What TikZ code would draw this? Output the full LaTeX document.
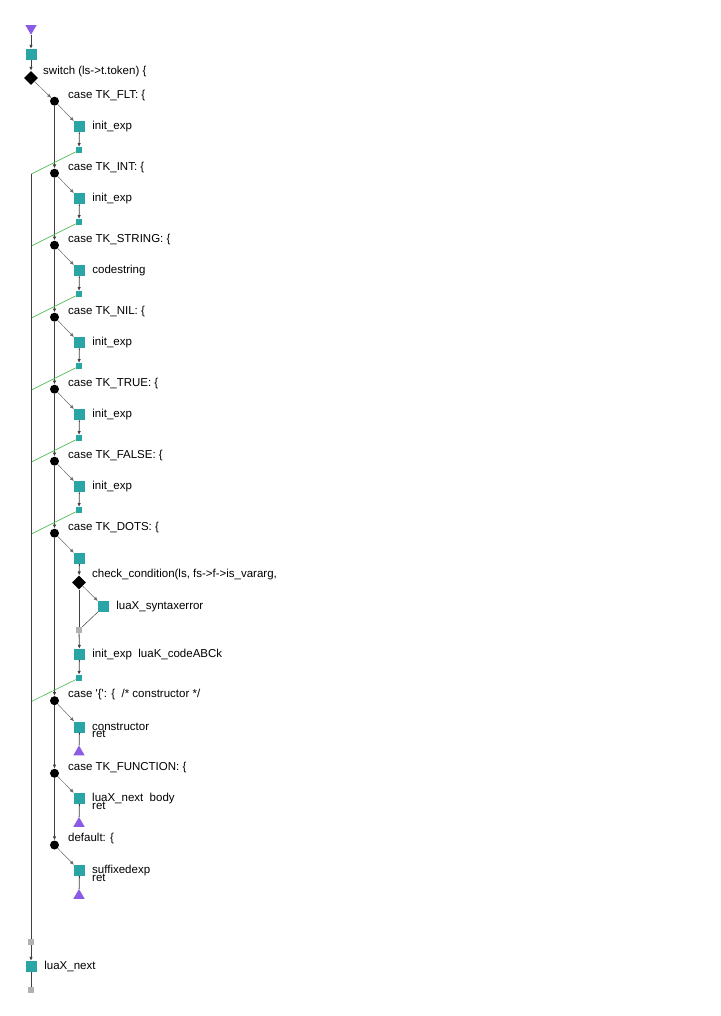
\documentclass[tikz,border=0pt]{standalone}
\usepackage{fontspec}
\usepackage{tikz}
\usepackage{xcolor}
\usetikzlibrary{shapes.geometric, arrows.meta}
\newfontfamily\flowfont{Liberation Sans}

\definecolor{blockteal}{RGB}{41,165,165}
\definecolor{retviolet}{RGB}{138,92,230}
\definecolor{joingray}{RGB}{178,178,178}
\definecolor{backgreen}{RGB}{77,184,77}
\definecolor{edgegray}{RGB}{64,64,64}

\begin{document}
\begin{tikzpicture}[
    x=1pt, y=-1pt,
    font=\flowfont\fontsize{11.5}{12}\selectfont,
    blk/.style={rectangle, fill=blockteal, minimum size=11pt, inner sep=0pt},
    tiny/.style={rectangle, fill=#1, minimum size=6pt, inner sep=0pt},
    tiny/.default=blockteal,
    casedot/.style={circle, fill=black, minimum size=9pt, inner sep=0pt},
    cond/.style={diamond, fill=black, minimum size=14pt, inner sep=0pt},
    endmark/.style={regular polygon, regular polygon sides=3, fill=retviolet,
        minimum size=13pt, inner sep=0pt, shape border rotate=#1},
    endmark/.default=0,
    txt/.style={anchor=west, inner sep=0pt},
    side/.style={txt, xshift=7pt},
    flow/.style={draw=edgegray, line width=0.8pt, -{Latex[length=4pt,width=3.5pt]}},
    slant/.style={draw=edgegray!80, line width=0.5pt, -{Latex[length=4pt,width=3.5pt]}},
    link/.style={draw=edgegray, line width=0.8pt},
    back/.style={draw=backgreen, line width=0.6pt}
]
    \useasboundingbox (0,0) rectangle (720,1016);

    % Entry
    \node[endmark=180] (entry) at (31,28.3) {};
    \node[blk] (first) at (31,54.5) {};
    \node[cond] (sw) at (31,78) {};
    \node[txt] (swtxt) at (43,72) {switch (ls->t.token) \{};

    % Case heads
    \node[casedot] (cFLT)  at (54.5,101.2) {};
    \node[casedot] (cINT)  at (54.5,173.2) {};
    \node[casedot] (cSTR)  at (54.5,245.2) {};
    \node[casedot] (cNIL)  at (54.5,317.2) {};
    \node[casedot] (cTRUE) at (54.5,389.2) {};
    \node[casedot] (cFALSE) at (54.5,461.2) {};
    \node[casedot] (cDOTS) at (54.5,533.2) {};
    \node[casedot] (cBRACE) at (54.5,700.7) {};
    \node[casedot] (cFUNC) at (54.5,773.3) {};
    \node[casedot] (cDEF)  at (54.5,845) {};

    \node[txt] at (68,95.2)  {case TK\_FLT: \{};
    \node[txt] at (68,167.2) {case TK\_INT: \{};
    \node[txt] at (68,239.2) {case TK\_STRING: \{};
    \node[txt] at (68,311.2) {case TK\_NIL: \{};
    \node[txt] at (68,383.2) {case TK\_TRUE: \{};
    \node[txt] at (68,455.2) {case TK\_FALSE: \{};
    \node[txt] at (68,527.2) {case TK\_DOTS: \{};
    \node[txt] at (68,694.7) {case \textquotesingle\{\textquotesingle: \{~ /* constructor */};
    \node[txt] at (68,767.3) {case TK\_FUNCTION: \{};
    \node[txt] at (68,839)   {default: \{};

    % Simple case bodies
    \node[blk, label={[side]right:init\_exp}] (bFLT) at (79.5,126.7) {};
    \node[tiny] (eFLT) at (79,150.2) {};
    \node[blk, label={[side]right:init\_exp}] (bINT) at (79.5,198.7) {};
    \node[tiny] (eINT) at (79,222.2) {};
    \node[blk, label={[side]right:codestring}] (bSTR) at (79.5,270.7) {};
    \node[tiny] (eSTR) at (79,294.2) {};
    \node[blk, label={[side]right:init\_exp}] (bNIL) at (79.5,342.7) {};
    \node[tiny] (eNIL) at (79,366.2) {};
    \node[blk, label={[side]right:init\_exp}] (bTRUE) at (79.5,414.7) {};
    \node[tiny] (eTRUE) at (79,438.2) {};
    \node[blk, label={[side]right:init\_exp}] (bFALSE) at (79.5,486.7) {};
    \node[tiny] (eFALSE) at (79,510.2) {};

    % TK_DOTS body
    \node[blk] (dsq) at (79.5,558.5) {};
    \node[cond] (dchk) at (79,582.5) {};
    \node[txt] (dchktxt) at (92,575) {check\_condition(ls, fs->f->is\_vararg,};
    \node[blk, label={[side]right:luaX\_syntaxerror}] (derr) at (103.5,606.5) {};
    \node[tiny=joingray] (djoin) at (79,630) {};
    \node[blk, label={[side]right:init\_exp~ luaK\_codeABCk}] (dabc) at (79.5,654.5) {};
    \node[tiny] (eDOTS) at (79,678) {};

    % Returning cases
    \node[blk] (bBRACE) at (79.5,727) {};
    \node[txt] at (92,727) {constructor};
    \node[txt] at (92,734) {ret};
    \node[endmark] (rBRACE) at (79,752) {};
    \node[blk] (bFUNC) at (79.5,798.5) {};
    \node[txt] at (92,798.5) {luaX\_next~ body};
    \node[txt] at (92,805.5) {ret};
    \node[endmark] (rFUNC) at (79,823.5) {};
    \node[blk] (bDEF) at (79.5,870.5) {};
    \node[txt] at (92,870.5) {suffixedexp};
    \node[txt] at (92,877.5) {ret};
    \node[endmark] (rDEF) at (79,895.5) {};

    % Exit
    \node[tiny=joingray] (merge) at (31,942) {};
    \node[blk, label={[side, xshift=0.5pt]right:luaX\_next}] (last) at (31,966.5) {};
    \node[tiny=joingray] (exit) at (31,990) {};

    % Merge points on the outer line
    \coordinate (mINT)   at (31,174.2);
    \coordinate (mSTR)   at (31,246.2);
    \coordinate (mNIL)   at (31,318.2);
    \coordinate (mTRUE)  at (31,390.2);
    \coordinate (mFALSE) at (31,462.2);
    \coordinate (mDOTS)  at (31,534.2);
    \coordinate (mBRACE) at (31,701.7);

    % Entry edges
    \draw[flow] (entry) -- (first);
    \draw[flow] (first) -- (sw);
    \draw[slant] (sw) -- (cFLT);

    % Case chain
    \draw[flow] (cFLT) -- (cINT);
    \draw[flow] (cINT) -- (cSTR);
    \draw[flow] (cSTR) -- (cNIL);
    \draw[flow] (cNIL) -- (cTRUE);
    \draw[flow] (cTRUE) -- (cFALSE);
    \draw[flow] (cFALSE) -- (cDOTS);
    \draw[flow] (cDOTS) -- (cBRACE);
    \draw[flow] (cBRACE) -- (cFUNC);
    \draw[flow] (cFUNC) -- (cDEF);

    % Into the bodies
    \draw[slant] (cFLT) -- (bFLT);
    \draw[slant] (cINT) -- (bINT);
    \draw[slant] (cSTR) -- (bSTR);
    \draw[slant] (cNIL) -- (bNIL);
    \draw[slant] (cTRUE) -- (bTRUE);
    \draw[slant] (cFALSE) -- (bFALSE);
    \draw[slant] (cDOTS) -- (dsq);
    \draw[slant] (cBRACE) -- (bBRACE);
    \draw[slant] (cFUNC) -- (bFUNC);
    \draw[slant] (cDEF) -- (bDEF);

    \draw[flow] (bFLT) -- (eFLT);
    \draw[flow] (bINT) -- (eINT);
    \draw[flow] (bSTR) -- (eSTR);
    \draw[flow] (bNIL) -- (eNIL);
    \draw[flow] (bTRUE) -- (eTRUE);
    \draw[flow] (bFALSE) -- (eFALSE);

    % TK_DOTS edges
    \draw[flow] (dsq) -- (dchk);
    \draw[slant] (dchk) -- (derr);
    \draw[link] (dchk) -- (djoin);
    \draw[link, line width=0.5pt] (derr) -- (djoin);
    \draw[flow] (djoin) -- (dabc);
    \draw[flow] (dabc) -- (eDOTS);

    % Returns
    \draw[link] (bBRACE) -- (rBRACE);
    \draw[link] (bFUNC) -- (rFUNC);
    \draw[link] (bDEF) -- (rDEF);

    % Breaks (green) and outer line
    \draw[back] (eFLT) -- (mINT);
    \draw[back] (eINT) -- (mSTR);
    \draw[back] (eSTR) -- (mNIL);
    \draw[back] (eNIL) -- (mTRUE);
    \draw[back] (eTRUE) -- (mFALSE);
    \draw[back] (eFALSE) -- (mDOTS);
    \draw[back] (eDOTS) -- (mBRACE);
    \draw[link] (mINT) -- (merge);
    \draw[flow] (merge) -- (last);
    \draw[link] (last) -- (exit);

\end{tikzpicture}
\end{document}
